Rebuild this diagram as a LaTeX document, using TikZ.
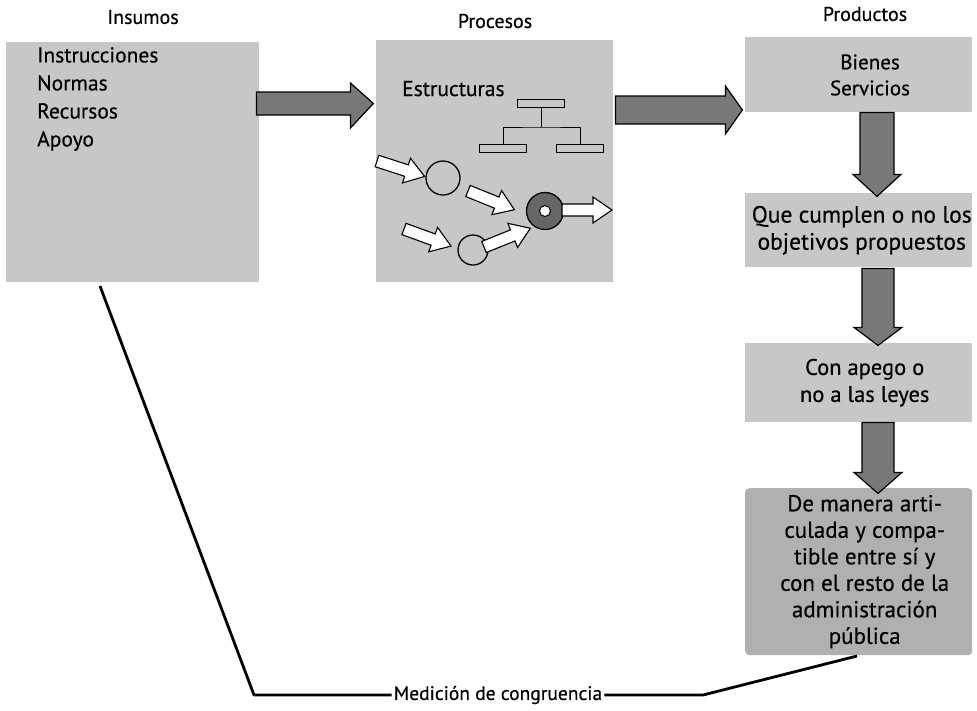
\documentclass[tikz,border=0pt]{standalone}
\usepackage{fontspec}
\setmainfont{PT Sans}[FakeBold=0.45]
\usetikzlibrary{calc}
\definecolor{boxgray}{gray}{0.78}
\definecolor{boxdark}{gray}{0.69}
\definecolor{arrgray}{gray}{0.47}
\definecolor{ringgray}{gray}{0.40}
\begin{document}
\begin{tikzpicture}[x=1pt,y=-1pt,
  box/.style={fill=boxgray, draw=none, inner sep=0pt, anchor=north west},
  rbox/.style={fill=boxgray, draw=none, inner sep=0pt, anchor=north west, minimum width=227pt},
  head/.style={font=\fontsize{20}{24}\selectfont},
  txt/.style={font=\fontsize{21.5}{28}\selectfont, inner sep=0pt},
  rtxt/.style={font=\fontsize{23.5}{27}\selectfont, inner sep=0pt, align=center},
  bigarr/.style={fill=arrgray, draw=black, line width=1.2pt, line join=miter},
  harr/.style={fill=white, draw=black, line width=1.1pt, line join=miter},
  orgbox/.style={draw=black, line width=1pt, fill=boxgray, minimum width=47pt, minimum height=8pt, inner sep=0pt},
  conn/.style={draw=black, line width=2.8pt, line join=round}
]
\useasboundingbox (0,0) rectangle (977,710);

% headers
\node[head] (hins) at (143,17) {Insumos};
\node[head] (hproc) at (495,21) {Procesos};
\node[head] (hprod) at (865,14) {Productos};

% Insumos box
\node[box, minimum width=253pt, minimum height=240pt] (ins) at (6,42) {};
\node[txt, anchor=north west, align=left] (instxt) at (37,47)
  {Instrucciones\\Normas\\Recursos\\Apoyo};

% Procesos box
\node[box, minimum width=237pt, minimum height=242pt] (proc) at (376,40) {};
\node[txt, anchor=base west] (estr) at (402,96) {Estructuras};

% org chart
\node[orgbox] (o1) at (541,103) {};
\node[orgbox] (o2) at (503,148) {};
\node[orgbox] (o3) at (580,148) {};
\coordinate (ojoin) at (541,127);
\draw[line width=1pt] (o1.south) -- (ojoin);
\draw[line width=1pt] (o2.north) |- (ojoin) -| (o3.north);

% circles
\node[circle, draw=black, line width=1.3pt, fill=boxgray, minimum size=34pt, inner sep=0pt] (c1) at (443,178) {};
\node[circle, draw=black, line width=1.3pt, fill=boxgray, minimum size=30pt, inner sep=0pt] (c2) at (473,250) {};
\node[circle, draw=black, line width=1.3pt, fill=ringgray, minimum size=37pt, inner sep=0pt] (ring) at (545,211) {};
\node[circle, draw=black, line width=1pt, fill=white, minimum size=11pt, inner sep=0pt] (ringin) at (ring) {};

% hollow arrows
\tikzset{hollow/.pic={
  \path[harr] (0,-6) -- (31,-6) -- (31,-13) -- (50,0) -- (31,13) -- (31,6) -- (0,6) -- cycle;
}}
\pic[rotate=-18] (ha1) at (377,161) {hollow};
\pic[rotate=-22] (ha2) at (468,191) {hollow};
\pic[rotate=-20] (ha3) at (404,229) {hollow};
\pic[rotate=22] (ha4) at (484,247) {hollow};
\pic (ha5) at (562,210) {hollow};

% right column
\node[rbox, minimum height=75pt] (p1) at (745,37) {};
\node[txt, align=center, font=\fontsize{21}{26}\selectfont] (p1t) at (870,75) {Bienes\\Servicios};
\node[rbox, minimum height=74pt] (p2) at (745,193) {};
\node[rtxt] (p2t) at ($(p2.center)+(3,0)$) {Que cumplen o no los\\objetivos propuestos};
\node[rbox, minimum height=79pt] (p3) at (745,343) {};
\node[rtxt, font=\fontsize{22.5}{27}\selectfont] (p3t) at ($(p3.center)+(6,0)$) {Con apego o\\no a las leyes};
\node[rbox, minimum height=167pt, fill=boxdark, rounded corners=4pt] (p4) at (745,488) {};
\node[rtxt, font=\fontsize{23}{26.5}\selectfont] (p4t) at ($(p4.center)+(6,0)$) {De manera arti-\\culada y compa-\\tible entre sí y\\con el resto de la\\administración\\pública};

% big horizontal arrows
\coordinate (a1s) at (ins.north east |- 0,103.5);
\draw[bigarr] (a1s) ++(-3,-11.5) -- ++(94,0) -- ++(0,-9) -- ++(23,20.5) -- ++(-23,24.5) -- ++(0,-13) -- ++(-94,0) -- cycle;
\coordinate (a2s) at (proc.north east |- 0,110);
\draw[bigarr] (a2s) ++(2,-14) -- ++(110,0) -- ++(0,-10) -- ++(17,24) -- ++(-17,24) -- ++(0,-10) -- ++(-110,0) -- cycle;

% down arrows
\coordinate (d1s) at (p1.south -| 877,0);
\draw[bigarr] (d1s) ++(-17,0) -- ++(0,62) -- ++(-7,0) -- ++(24,22) -- ++(24,-22) -- ++(-7,0) -- ++(0,-62) -- cycle;
\coordinate (d2s) at (p2.south -| 878,0);
\draw[bigarr] (d2s) ++(-16,1) -- ++(0,59) -- ++(-8,0) -- ++(24,18) -- ++(24,-18) -- ++(-8,0) -- ++(0,-59) -- cycle;
\coordinate (d3s) at (p3.south -| 878,0);
\draw[bigarr] (d3s) ++(-16,0) -- ++(0,50) -- ++(-8,0) -- ++(24,21) -- ++(24,-21) -- ++(-8,0) -- ++(0,-50) -- cycle;

% congruence connector
\node[font=\fontsize{19.5}{23}\selectfont, inner sep=2pt] (med) at (498,695) {Medición de congruencia};
\coordinate (lstart) at (100,286);
\coordinate (lc1) at (254,695);
\coordinate (lc2) at (703,695);
\coordinate (lend) at (857,656);
\draw[conn] (lstart) -- (lc1) -- (med.west);
\draw[conn] (med.east) -- (lc2) -- (lend);
\end{tikzpicture}
\end{document}
